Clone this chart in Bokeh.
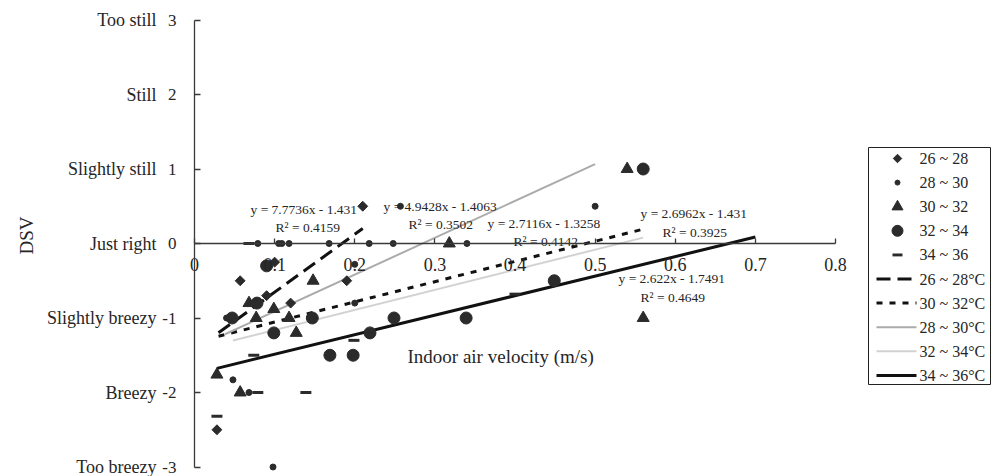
from bokeh.plotting import figure
from bokeh.models import LinearAxis, FixedTicker, Range1d
from bokeh.core.properties import value
from bokeh.embed import file_html
from bokeh.resources import INLINE
import math

# ---------------- data ----------------
x_ticks = [0, 0.1, 0.2, 0.3, 0.4, 0.5, 0.6, 0.7, 0.8]
x_tick_labels = ["0", "0.1", "0.2", "0.3", "0.4", "0.5", "0.6", "0.7", "0.8"]
y_ticks = [3, 2, 1, 0, -1, -2, -3]
y_tick_labels = ["3", "2", "1", "0", "-1", "-2", "-3"]
dsv_names = ["Too still", "Still", "Slightly still", "Just right",
             "Slightly breezy", "Breezy", "Too breezy"]

x_title = "Indoor air velocity (m/s)"
y_title = "DSV"

# scatter series (air temperature groups)
s26_x = [0.21, 0.10, 0.057, 0.19, 0.09, 0.028, 0.12]
s26_y = [0.5, -0.25, -0.5, -0.5, -0.7, -2.5, -0.8]

s28_x = [0.079, 0.105, 0.109, 0.118, 0.168, 0.218, 0.248, 0.34,
         0.257, 0.50, 0.04, 0.048, 0.068, 0.098, 0.20, 0.20]
s28_y = [0, 0, 0, 0, 0, 0, 0, 0,
         0.5, 0.5, -1.0, -1.83, -2.0, -3.0, -0.28, -0.8]

s30_x = [0.54, 0.56, 0.318, 0.148, 0.068, 0.099, 0.077, 0.118, 0.127, 0.028, 0.057]
s30_y = [1.0, -1.0, 0, -0.5, -0.8, -0.88, -1.0, -1.0, -1.2, -1.76, -2.0]

s32_x = [0.56, 0.09, 0.078, 0.047, 0.147, 0.099, 0.169, 0.198, 0.219, 0.249, 0.339, 0.449]
s32_y = [1.0, -0.3, -0.8, -1.0, -1.0, -1.2, -1.5, -1.5, -1.2, -1.0, -1.0, -0.5]

s34_x = [0.4, 0.199, 0.074, 0.079, 0.139, 0.028, 0.068]
s34_y = [-0.68, -1.3, -1.5, -2.0, -2.0, -2.32, 0]

scatter_labels = ["26 ~ 28", "28 ~ 30", "30 ~ 32", "32 ~ 34", "34 ~ 36"]

# linear fits
fit_labels = ["26 ~ 28\u00b0C", "30 ~ 32\u00b0C", "28 ~ 30\u00b0C", "32 ~ 34\u00b0C", "34 ~ 36\u00b0C"]
fit_slope = [7.7736, 2.7116, 4.9428, 2.6962, 2.622]
fit_icept = [-1.431, -1.3258, -1.4063, -1.431, -1.7491]
fit_r2 = ["0.4159", "0.4142", "0.3502", "0.3925", "0.4649"]
fit_x0 = [0.03, 0.03, 0.038, 0.048, 0.028]
fit_x1 = [0.21, 0.56, 0.50, 0.56, 0.70]

# ---------------- style / layout ----------------
W, H = 993, 476
X0_PX, X_SCALE = 194.0, 801.25      # pixel of x=0, pixels per unit
Y0_PX, Y_SCALE = 243.0, 74.5        # pixel of y=0, pixels per unit


def sx(px):
    return (px - X0_PX) / X_SCALE


def sy(py):
    return (Y0_PX - py) / Y_SCALE


FONT = "Liberation Serif"
TXT = "#262626"
MK = "#2b2b2b"

# equation annotation anchors in pixels (left edge, vertical middle)
eq_px = [(250, 209), (487, 223), (383, 206), (640, 213), (618, 278)]
r2_px = [(275, 227), (513, 241), (408, 224), (662, 232), (640, 297)]
fit_style = [
    dict(line_color="#111111", line_width=3, line_dash="14 7"),
    dict(line_color="#111111", line_width=3, line_dash="6 7"),
    dict(line_color="#ababab", line_width=2),
    dict(line_color="#d2d2d2", line_width=2),
    dict(line_color="#111111", line_width=3),
]
marker_style = [
    dict(marker="square", size=7, angle=math.pi / 4, color=MK),
    dict(marker="circle", size=6, color=MK),
    dict(marker="triangle", size=12, color=MK),
    dict(marker="circle", size=12, color=MK),
    dict(marker="dash", size=11, line_width=3, color=MK),
]
legend_marker_size = [6, 5, 11, 11, 10]

p = figure(width=W, height=H,
           x_range=Range1d(sx(0), sx(W)), y_range=Range1d(sy(H), sy(0)),
           x_axis_type=None, y_axis_type=None,
           toolbar_location=None, output_backend="svg",
           min_border=0, outline_line_color=None)

axis_common = dict(axis_line_color="#3a3a3a", axis_line_width=1.3,
                   major_tick_line_color="#3a3a3a", major_tick_line_width=1.3,
                   major_tick_out=0, minor_tick_in=0, minor_tick_out=0,
                   major_label_text_font=FONT, major_label_text_color=TXT)

xaxis = LinearAxis(fixed_location=0, bounds=(0, 0.8),
                   ticker=FixedTicker(ticks=x_ticks),
                   major_label_overrides=dict(zip(x_ticks, x_tick_labels)),
                   major_tick_in=5, major_label_standoff=14,
                   major_label_text_font_size="18px", **axis_common)
p.add_layout(xaxis, "below")

yaxis = LinearAxis(fixed_location=0, bounds=(-3, 3),
                   ticker=FixedTicker(ticks=y_ticks),
                   major_label_overrides=dict(zip(y_ticks, y_tick_labels)),
                   major_tick_in=6, major_label_standoff=18,
                   major_label_text_font_size="17px", **axis_common)
p.add_layout(yaxis, "left")

# category names beside the DSV scale
p.text(x=[sx(156)] * len(y_ticks), y=y_ticks, text=dsv_names,
       text_font=value(FONT), text_font_size="18px", text_color=TXT,
       text_align="right", text_baseline="middle")

# axis titles
p.text(x=[sx(26)], y=[sy(235)], text=[y_title], angle=math.pi / 2,
       text_font=value(FONT), text_font_size="19px", text_color=TXT,
       text_align="center", text_baseline="middle")
p.text(x=[sx(407)], y=[sy(356)], text=[x_title],
       text_font=value(FONT), text_font_size="19px", text_color=TXT,
       text_align="left", text_baseline="middle")

# fitted lines
for i in range(len(fit_slope)):
    xs = [fit_x0[i], fit_x1[i]]
    ys = [fit_slope[i] * xx + fit_icept[i] for xx in xs]
    p.line(xs, ys, **fit_style[i])

# scatter markers
series_x = [s26_x, s28_x, s30_x, s32_x, s34_x]
series_y = [s26_y, s28_y, s30_y, s32_y, s34_y]
for i in range(5):
    p.scatter(series_x[i], series_y[i], **marker_style[i])

# equations
eq_t = ["y = %gx - %g" % (fit_slope[i], abs(fit_icept[i])) for i in range(5)]
r2_t = ["R\u00b2 = " + v for v in fit_r2]
p.text(x=[sx(a) for a, b in eq_px], y=[sy(b) for a, b in eq_px], text=eq_t,
       text_font=value(FONT), text_font_size="13.5px",
       text_color=TXT, text_align="left", text_baseline="middle")
p.text(x=[sx(a) for a, b in r2_px], y=[sy(b) for a, b in r2_px], text=r2_t,
       text_font=value(FONT), text_font_size="13.5px",
       text_color=TXT, text_align="left", text_baseline="middle")

# legend (drawn with glyphs so marker sizes follow the reference)
LG_L, LG_R, LG_T, LG_B = 868, 990, 147, 384
p.quad(left=[sx(LG_L)], right=[sx(LG_R)], top=[sy(LG_T)], bottom=[sy(LG_B)],
       fill_color="white", line_color="#222222", line_width=1)
row_py = [158 + 24.1 * i for i in range(10)]
for i in range(5):
    st = dict(marker_style[i])
    st["size"] = legend_marker_size[i]
    p.scatter([sx(897)], [sy(row_py[i])], **st)
for i in range(5):
    yy = sy(row_py[5 + i])
    p.line([sx(876), sx(916)], [yy, yy], **fit_style[i])
p.text(x=[sx(919)] * 10, y=[sy(v) for v in row_py], text=scatter_labels + fit_labels,
       text_font=value(FONT), text_font_size="16px", text_color=TXT,
       text_align="left", text_baseline="middle")

open("out.html", "w").write(file_html(p, INLINE))
